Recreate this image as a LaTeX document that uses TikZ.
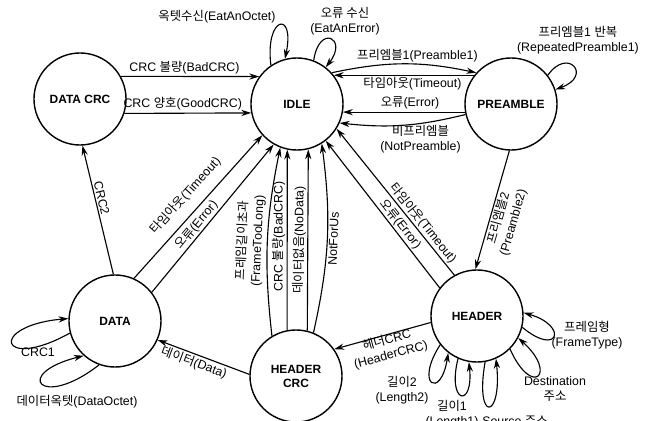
\documentclass[tikz,border=0pt]{standalone}
\usepackage{fontspec}
\setmainfont{Liberation Sans}
\newfontfamily\kofont{Noto Sans CJK KR}
\newcommand{\ko}[1]{{\kofont #1}}
\usetikzlibrary{arrows.meta}

\tikzset{
  state/.style={draw, circle, line width=1pt, minimum size=2.3cm, inner sep=0pt,
    align=center, font=\fontsize{8.5}{10}\selectfont\bfseries},
  trans/.style={line width=0.8pt, -{Stealth[length=7pt,width=4.4pt]}},
  lbl/.style={inner sep=1pt, align=center, font=\fontsize{8.8}{10.7}\selectfont},
}

\begin{document}
\begin{tikzpicture}[x=0.025cm, y=0.025cm]
  \useasboundingbox (0,0) rectangle (647,-421);
  % States
  \node[state] (datacrc) at (80,-99) {DATA CRC};
  \node[state] (idle) at (297,-104) {IDLE};
  \node[state] (preamble) at (511,-104) {PREAMBLE};
  \node[state] (data) at (115,-321) {DATA};
  \node[state] (hdrcrc) at (296,-376) {HEADER\\CRC};
  \node[state] (header) at (477,-316) {HEADER};

  % DATA CRC -> IDLE
  \draw[trans] (datacrc.29) -- node[lbl, above, pos=0.46] (lbadcrc) {CRC \ko{불량}(BadCRC)} (idle.144);
  \draw[trans] (datacrc.-18) -- node[lbl, above=1pt, pos=0.46] (lgoodcrc) {CRC \ko{양호}(GoodCRC)} (idle.191);

  % IDLE self loops
  \draw[trans] (idle.124) .. controls +(97:50) and +(78:50) .. (idle.105);
  \node[lbl] (leatoctet) at (217,-17) {\ko{옥텟수신}(EatAnOctet)};
  \draw[trans] (idle.69) .. controls +(82:37) and +(52:37) .. (idle.52);
  \node[lbl] (leaterror) at (345,-21) {\ko{오류 수신}\\(EatAnError)};

  % IDLE <-> PREAMBLE
  \draw[trans] (idle.42) to[bend left=12] node[lbl, above, pos=0.6] (lpre1) {\ko{프리엠블}1(Preamble1)} (preamble.138);
  \draw[trans] (preamble.142) -- node[lbl, below, pos=0.44] (ltimeout1) {\ko{타임아웃}(Timeout)} (idle.38);
  \draw[trans] (preamble.190) -- node[lbl, above=1pt, pos=0.45] (lerror1) {\ko{오류}(Error)} (idle.-10);
  \draw[trans] (preamble.193) to[bend left=10] node[lbl, below, pos=0.35] (lnotpre) {\ko{비프리엠블}\\(NotPreamble)} (idle.-24);

  % PREAMBLE self loop
  \draw[trans] (preamble.38) .. controls +(55:35) and +(20:40) .. (preamble.18);
  \node[lbl] (lrepeat) at (578,-40) {\ko{프리엠블}1 \ko{반복}\\(RepeatedPreamble1)};

  % PREAMBLE -> HEADER
  \draw[trans] (preamble.268) -- node[lbl, sloped, below, pos=0.55] (lpre2) {\ko{프리엠블}2\\(Preamble2)} (header.92);

  % HEADER -> IDLE
  \draw[trans] (header.119) -- node[lbl, sloped, above, pos=0.32] (ltimeout2) {\ko{타임아웃}(Timeout)} (idle.-32);
  \draw[trans] (header.143) -- node[lbl, sloped, above, pos=0.4] (lerror2) {\ko{오류}(Error)} (idle.-52);

  % DATA -> IDLE
  \draw[trans] (data.66) -- node[lbl, sloped, above=6pt, pos=0.5] (ltimeout3) {\ko{타임아웃}(Timeout)} (idle.222);
  \draw[trans] (data.38) -- node[lbl, sloped, above, pos=0.42] (lerror3) {\ko{오류}(Error)} (idle.240);

  % DATA -> DATA CRC
  \draw[trans] (data.92) -- node[lbl, sloped, above, pos=0.58] (lcrc2) {CRC2} (datacrc.-87);

  % DATA self loops
  \draw[trans] (data.195) .. controls +(209:81) and +(185:81) .. (data.177);
  \node[lbl] (lcrc1) at (38,-352) {CRC1};
  \draw[trans] (data.250) .. controls +(218:74) and +(194:74) .. (data.228);
  \node[lbl] (ldataoctet) at (77,-402) {\ko{데이터옥텟}(DataOctet)};

  % HEADER CRC -> DATA, HEADER -> HEADER CRC
  \draw[trans] (hdrcrc.178) -- node[lbl, sloped, below, pos=0.57] (ldata) {\ko{데이터}(Data)} (data.-24);
  \draw[trans] (header.188) -- node[lbl, sloped, below=-2pt, pos=0.47] (lhdrcrc) {\ko{헤더}CRC\\(HeaderCRC)} (hdrcrc.35);

  % HEADER CRC -> IDLE
  \draw[trans] (hdrcrc.121) to[bend left=9] node[lbl, sloped, above=1pt, pos=0.5] (ltoolong) {\ko{프레임길이초과}\\(FrameTooLong)} (idle.249);
  \draw[trans] (hdrcrc.101) -- node[lbl, sloped, above, pos=0.52] (lbadcrc2) {CRC \ko{불량}(BadCRC)} (idle.258);
  \draw[trans] (hdrcrc.76) -- node[lbl, sloped, above, pos=0.5] (lnodata) {\ko{데이터없음}(NoData)} (idle.284);
  \draw[trans] (hdrcrc.68) to[bend right=10] node[lbl, sloped, below, pos=0.5] (lnotforus) {NotForUs} (idle.302);

  % HEADER self loops
  \draw[trans] (header.218) .. controls +(237:48) and +(261:48) .. (header.232);
  \node[lbl] (llength2) at (402,-390) {\ko{길이}2\\(Length2)};
  \draw[trans] (header.246) .. controls +(256:47) and +(276:47) .. (header.260);
  \node[lbl] (llength1) at (452,-414) {\ko{길이}1\\(Length1)};
  \draw[trans] (header.-80) .. controls +(260:62) and +(276:62) .. (header.-66);
  \node[lbl] (lsource) at (515,-421) {Source \ko{주소}};
  \draw[trans] (header.-45) .. controls +(-66:54) and +(-42:54) .. (header.-28);
  \node[lbl] (ldest) at (555,-389) {Destination\\\ko{주소}};
  \draw[trans] (header.-14) .. controls +(-40:47) and +(-16:47) .. (header.4);
  \node[lbl] (lframetype) at (587,-335) {\ko{프레임형}\\(FrameType)};
\end{tikzpicture}
\end{document}
